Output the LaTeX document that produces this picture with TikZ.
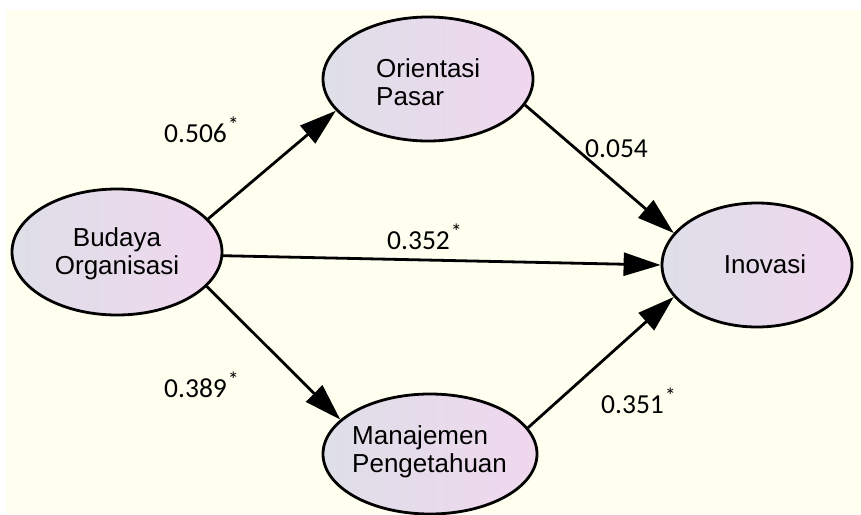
\documentclass[tikz,border=0pt]{standalone}
\usepackage{fontspec}
\setmainfont{Liberation Sans}
\newfontfamily\numfont{Carlito}
\usetikzlibrary{arrows.meta,shapes.geometric}
\definecolor{cream}{RGB}{255,255,240}
\definecolor{ellL}{RGB}{222,223,232}
\definecolor{ellR}{RGB}{240,215,238}
\newcommand{\sigast}{\hspace{1pt}\raisebox{10pt}{\fontsize{22}{22}\selectfont *}}
\begin{document}
\begin{tikzpicture}[x=1pt,y=-1pt,
  latent/.style={ellipse,draw=black,line width=2.8pt,left color=ellL,right color=ellR,inner sep=0pt},
  lbl/.style={font=\fontsize{26}{28}\selectfont,inner sep=0pt},
  pathar/.style={line width=2.8pt,-{Triangle[length=37pt,width=23pt]}},
  coef/.style={font=\numfont\fontsize{27.5}{30}\selectfont,inner sep=0pt,anchor=base west}]
\useasboundingbox (0,0) rectangle (861,514);
\fill[white] (0,0) rectangle (861,514);
\fill[cream] (6,10) rectangle (861,514);
% latent variables
\node[latent,minimum width=210pt,minimum height=126pt] (B) at (117,252) {};
\node[latent,minimum width=210pt,minimum height=124pt] (O) at (428,79) {};
\node[latent,minimum width=190pt,minimum height=124pt] (I) at (757,265) {};
\node[latent,minimum width=214pt,minimum height=120pt] (M) at (430,454) {};
% texts
\node[lbl,align=center] (tB) at (117,254) {Budaya\\Organisasi};
\node[lbl,align=left,anchor=west] (tO) at (376,82) {Orientasi\\Pasar};
\node[lbl] (tI) at (765,264) {Inovasi};
\node[lbl,align=left,anchor=west] (tM) at (352,452) {Manajemen\\Pengetahuan};
% paths
\draw[pathar] (B.20) -- (O.199.5);
\draw[pathar] (B.-2) -- (I.180);
\draw[pathar] (B.-21.6) -- (M.159);
\draw[pathar] (O.-15) -- (I.159);
\draw[pathar] (M.15) -- (I.201);
% coefficients
\node[coef] (c1) at (164,142) {0.506\sigast};
\node[coef] (c2) at (585,157) {0.054};
\node[coef] (c3) at (387,249) {0.352\sigast};
\node[coef] (c4) at (164,397) {0.389\sigast};
\node[coef] (c5) at (601,413) {0.351\sigast};
\end{tikzpicture}
\end{document}
